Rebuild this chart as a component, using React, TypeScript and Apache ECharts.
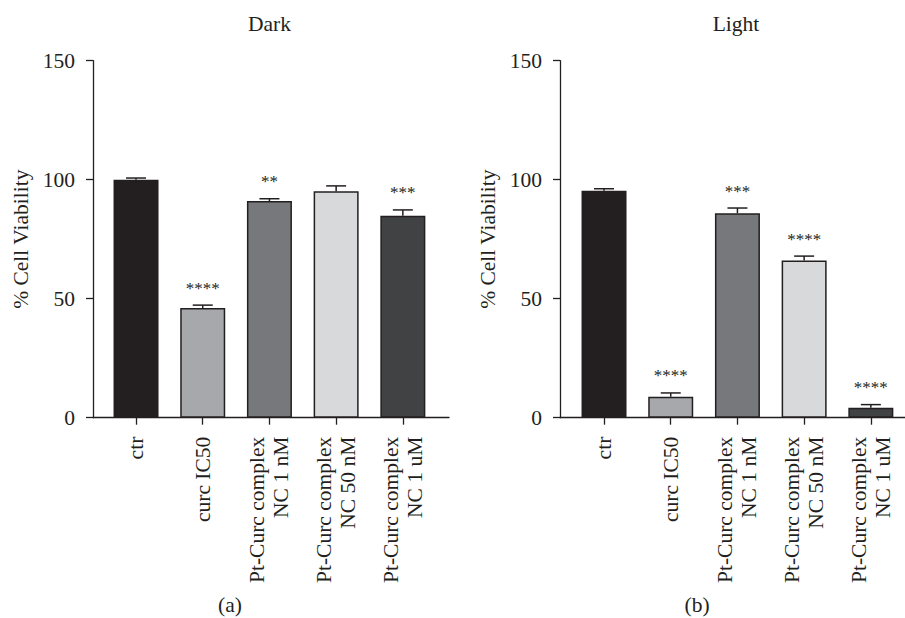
import React, { useEffect, useRef } from "react";
import * as echarts from "echarts";

const categories = [
  "ctr",
  "curc IC50",
  "Pt-Curc complex\nNC 1 nM",
  "Pt-Curc complex\nNC 50 nM",
  "Pt-Curc complex\nNC 1 uM",
];
const barColors = ["#231f20", "#a6a8ab", "#77787b", "#d8d9da", "#414243"];
const yTicks = [0, 50, 100, 150];

const darkMeans = [100.0, 46.1, 91.0, 95.1, 84.9];
const darkErrors = [0.7, 1.2, 1.0, 2.3, 2.4];
const darkStars = ["", "****", "**", "", "***"];

const lightMeans = [95.4, 8.8, 85.9, 66.0, 4.2];
const lightErrors = [0.8, 1.6, 2.2, 1.9, 1.3];
const lightStars = ["", "****", "***", "****", "****"];

const panelTitles = ["Dark", "Light"];
const panelLetters = ["(a)", "(b)"];

const FONT = "'Liberation Serif', 'Times New Roman', serif";
const FS = 21.5;
const INK = "#231f20";

export default function App() {
  const ref = useRef<HTMLDivElement>(null);

  useEffect(() => {
    if (!ref.current) return;
    const chart = echarts.init(ref.current, undefined, { renderer: "svg" });

    const panels = [
      { means: darkMeans, errors: darkErrors, stars: darkStars },
      { means: lightMeans, errors: lightErrors, stars: lightStars },
    ];

    const grids = [
      { left: 93, top: 60.7, width: 356, height: 357 },
      { left: 560, top: 60.7, width: 345, height: 357 },
    ];
    const xRanges = [
      { min: -0.645, max: 4.692 },
      { min: -0.66, max: 4.512 },
    ];
    const tickIdx = categories.map((_, i) => i);

    const xAxes = grids.map((_, g) => ({
      type: "value",
      gridIndex: g,
      min: xRanges[g].min,
      max: xRanges[g].max,
      splitLine: { show: false },
      axisLine: { show: true, onZero: false, lineStyle: { color: INK, width: 1.3 } },
      axisTick: {
        show: true,
        customValues: tickIdx,
        length: 7,
        lineStyle: { color: INK, width: 1.3 },
      },
      axisLabel: {
        show: true,
        customValues: tickIdx,
        rotate: 90,
        margin: 19,
        fontFamily: FONT,
        fontSize: FS,
        lineHeight: 24,
        color: INK,
        formatter: (v: number) => categories[Math.round(v)] ?? "",
      },
    }));

    const yAxes = grids.map((_, g) => ({
      type: "value",
      gridIndex: g,
      min: yTicks[0],
      max: yTicks[yTicks.length - 1],
      interval: yTicks[1] - yTicks[0],
      splitLine: { show: false },
      axisLine: { show: true, onZero: false, lineStyle: { color: INK, width: 1.3 } },
      axisTick: { show: true, length: 7, lineStyle: { color: INK, width: 1.3 } },
      axisLabel: {
        margin: 18,
        fontFamily: FONT,
        fontSize: FS,
        color: INK,
      },
      name: "% Cell Viability",
      nameLocation: "middle",
      nameGap: 61,
      nameTextStyle: { fontFamily: FONT, fontSize: FS, color: INK },
    }));

    const series: any[] = [];
    panels.forEach((p, g) => {
      series.push({
        type: "bar",
        xAxisIndex: g,
        yAxisIndex: g,
        barWidth: 45,
        data: p.means.map((m, i) => ({
          value: [i, m],
          itemStyle: { color: barColors[i], borderColor: INK, borderWidth: 1.5 },
        })),
        z: 2,
      });
      series.push({
        type: "custom",
        xAxisIndex: g,
        yAxisIndex: g,
        z: 3,
        dimensions: ["x", "mean", "top"],
        data: p.means.map((m, i) => [i, m, m + p.errors[i]]),
        encode: { x: 0, y: [1, 2] },
        renderItem: (params: any, api: any) => {
          const x = api.value(0);
          const m = api.value(1);
          const t = api.value(2);
          const base = api.coord([x, m]);
          const top = api.coord([x, t]);
          const star = p.stars[params.dataIndex];
          const children: any[] = [
            {
              type: "line",
              shape: { x1: base[0], y1: base[1], x2: top[0], y2: top[1] },
              style: { stroke: INK, lineWidth: 1.5 },
            },
            {
              type: "line",
              shape: { x1: top[0] - 10, y1: top[1], x2: top[0] + 10, y2: top[1] },
              style: { stroke: INK, lineWidth: 1.5 },
            },
          ];
          if (star) {
            children.push({
              type: "text",
              x: top[0],
              y: top[1] - 17,
              style: {
                text: star,
                fontFamily: FONT,
                fontSize: 17,
                fill: INK,
                align: "center",
                verticalAlign: "middle",
              },
            });
          }
          return { type: "group", children };
        },
      });
    });

    const txt = (text: string, x: number, y: number) => ({
      type: "text",
      x,
      y,
      style: {
        text,
        fontFamily: FONT,
        fontSize: FS,
        lineHeight: 22,
        fill: INK,
        align: "center",
        verticalAlign: "middle",
      },
    });

    const graphic: any[] = [
      txt(panelTitles[0], 269.5, 24),
      txt(panelTitles[1], 736, 24),
      txt(panelLetters[0], 230, 605),
      txt(panelLetters[1], 697, 605),
    ];

    chart.setOption({
      animation: false,
      backgroundColor: "#ffffff",
      grid: grids,
      xAxis: xAxes,
      yAxis: yAxes,
      series,
      graphic,
    });

    return () => chart.dispose();
  }, []);

  return (
    <div
      ref={ref}
      style={{ position: "fixed", left: 0, top: 0, width: 905, height: 618 }}
    />
  );
}
